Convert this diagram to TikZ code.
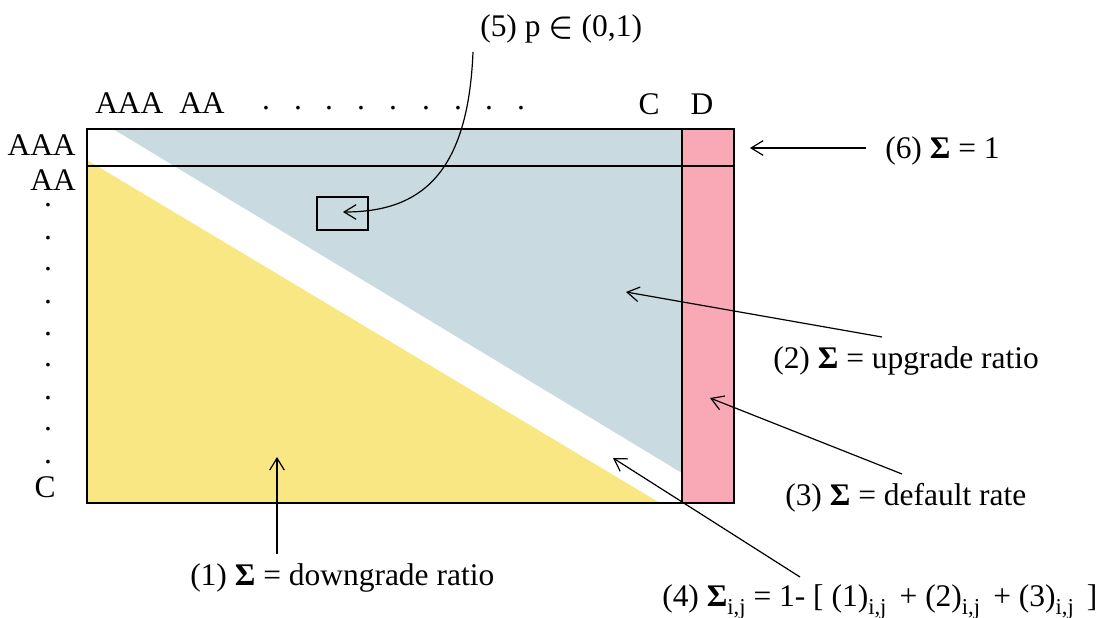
\documentclass[tikz,border=0pt]{standalone}
\usepackage{fontspec}
\setmainfont{Liberation Serif}
\usetikzlibrary{arrows.meta}
\definecolor{upblue}{RGB}{201,219,224}
\definecolor{downyellow}{RGB}{249,231,132}
\definecolor{defpink}{RGB}{249,169,182}
\newcommand{\subij}{\raisebox{-0.26em}{\fontsize{17}{17}\selectfont i,j}}
\tikzset{
  lbl/.style={inner sep=0pt, anchor=base west, font=\fontsize{23.6}{28}\selectfont},
  hdr/.style={inner sep=0pt, anchor=base, font=\fontsize{23.6}{28}\selectfont},
  frame/.style={draw=black, line width=1.2pt},
  pointer/.style={draw=black, line width=0.9pt, -{Straight Barb[length=9pt,width=11pt,line width=0.9pt]}},
  cellbox/.style={draw=black, line width=0.9pt, fill=none, inner sep=0pt, minimum width=38.25pt, minimum height=24.75pt}
}
\begin{document}
\begin{tikzpicture}[x=0.75pt, y=-0.75pt]
\useasboundingbox (0,0) rectangle (1119,617);
% fills
\fill[upblue] (113,129) -- (682,129) -- (682,473) -- cycle;
\fill[downyellow] (87,160) -- (87,503) -- (660,503) -- cycle;
\fill[defpink] (682,129) rectangle (734,503);
% outlines
\coordinate (tl) at (87,129);
\coordinate (br) at (734,503);
\draw[frame] (tl) rectangle (br);
\coordinate (pt) at (682,129);
\coordinate (pb) at (682,503);
\draw[frame] (pt) -- (pb);
\coordinate (rl) at (87,166);
\coordinate (rr) at (734,166);
\draw[frame] (rl) -- (rr);
% small cell
\node[cellbox] (cell) at (342.5,213.5) {};
% header labels
\node[inner sep=0pt, anchor=base west, font=\fontsize{23.6}{28}\selectfont] (hAAA) at (95,113) {AAA};
\node[inner sep=0pt, anchor=base west, font=\fontsize{23.6}{28}\selectfont] (hAA) at (179,113) {AA};
\foreach \x [count=\i] in {266,298,329,361,393,426,458,489,521}
  \node[hdr] (hd\i) at (\x,109) {.};
\node[hdr] (hC) at (649,114) {C};
\node[hdr] (hD) at (702,114) {D};
% row labels
\node[inner sep=0pt, anchor=base east, font=\fontsize{23.6}{28}\selectfont] (rAAA) at (76,155) {AAA};
\node[inner sep=0pt, anchor=base east, font=\fontsize{23.6}{28}\selectfont] (rAA) at (76,190) {AA};
\foreach \y [count=\i] in {204,237,268,301,333,364,397,428,461}
  \node[hdr] (vd\i) at (48,\y+2) {.};
\node[hdr] (rC) at (45,497) {C};
% annotation labels
\node[lbl] (l1) at (190,585) {(1) \textbf{Σ} = downgrade ratio};
\node[lbl] (l2) at (773,368) {(2) \textbf{Σ} = upgrade ratio};
\node[lbl] (l3) at (785,505) {(3) \textbf{Σ} = default rate};
\node[lbl] (l4) at (662,606) {(4) \textbf{Σ}\subij{} = 1- [ (1)\subij{}\, + (2)\subij{}\, + (3)\subij{}\, ]};
\node[lbl] (l5) at (480,37) {(5) p {\boldmath$\in$} (0,1)};
\node[lbl] (l6) at (885,158) {(6) \textbf{Σ} = 1};
% arrows
\coordinate (a1s) at (277,554); \coordinate (a1e) at (277,457);
\draw[pointer] (a1s) -- (a1e);
\coordinate (a2s) at (882,337); \coordinate (a2e) at (626,292);
\draw[pointer] (a2s) -- (a2e);
\coordinate (a3s) at (902,474); \coordinate (a3e) at (710,398);
\draw[pointer] (a3s) -- (a3e);
\coordinate (a4s) at (800,577); \coordinate (a4e) at (613,458);
\draw[pointer] (a4s) -- (a4e);
\coordinate (a5s) at (473,52); \coordinate (a5e) at (343,212);
\draw[pointer] (a5s) .. controls (468,175) and (420,212) .. (a5e);
\coordinate (a6s) at (866,148); \coordinate (a6e) at (750,148);
\draw[pointer] (a6s) -- (a6e);
\end{tikzpicture}
\end{document}
